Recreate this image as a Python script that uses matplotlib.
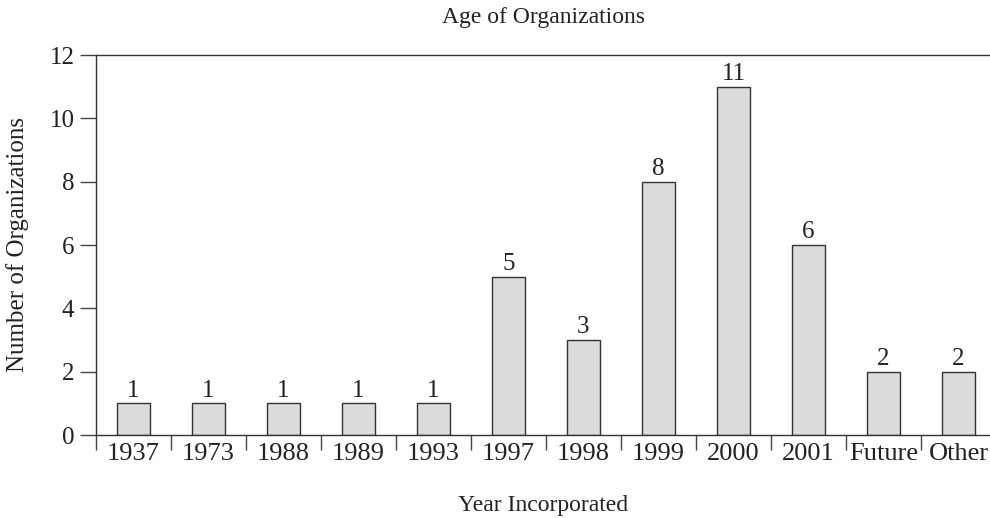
import matplotlib
matplotlib.use("Agg")
import matplotlib.pyplot as plt
import numpy as np

years = ["1937", "1973", "1988", "1989", "1993", "1997", "1998",
         "1999", "2000", "2001", "Future", "Other"]
counts = [1, 1, 1, 1, 1, 5, 3, 8, 11, 6, 2, 2]
y_ticks = [0, 2, 4, 6, 8, 10, 12]

plt.rcParams["font.family"] = ["Liberation Serif", "DejaVu Serif"]
ink = "#222222"

fig = plt.figure(figsize=(9.9, 5.18), dpi=100)
ax = fig.add_axes([96 / 990, 83 / 518, 1 - 96 / 990, 380 / 518])

x = np.arange(len(years))
bars = ax.bar(x, counts, width=0.44, color="#dcdcdc", edgecolor="#333333",
              linewidth=1.0, zorder=2)
for xi, c in zip(x, counts):
    ax.text(xi, c + 0.05, str(c), ha="center", va="bottom", fontsize=18, color=ink)

ax.set_ylim(0, 12)
ax.set_xlim(-0.5, 11.42)
ax.set_yticks(y_ticks)
ax.tick_params(axis="y", direction="out", length=11.5, width=1.0, color="#444444",
               labelsize=18, labelcolor=ink, pad=4)

# separators between categories below the axis, labels in the middle
ax.set_xticks(np.arange(-0.5, len(years) - 0.5, 1.0))
ax.set_xticklabels([])
ax.tick_params(axis="x", which="major", direction="out", length=10.5, width=1.0,
               color="#444444")
ax.set_xticks(x, minor=True)
ax.set_xticklabels(years, minor=True)
ax.tick_params(axis="x", which="minor", length=0, labelsize=19, labelcolor=ink, pad=6)

ax.spines["right"].set_visible(False)
for s in ["top", "bottom", "left"]:
    ax.spines[s].set_color("#333333")
    ax.spines[s].set_linewidth(1.0)

fig.text(543 / 990, 1 - 18 / 518, "Age of Organizations", ha="center", va="center",
         fontsize=17, color=ink)
fig.text(543 / 990, 1 - 505 / 518, "Year Incorporated", ha="center", va="center",
         fontsize=17, color=ink)
fig.text(18 / 990, 1 - 245 / 518, "Number of Organizations", ha="center", va="center",
         rotation=90, fontsize=18, color=ink)

fig.savefig("out.png", dpi=100)
